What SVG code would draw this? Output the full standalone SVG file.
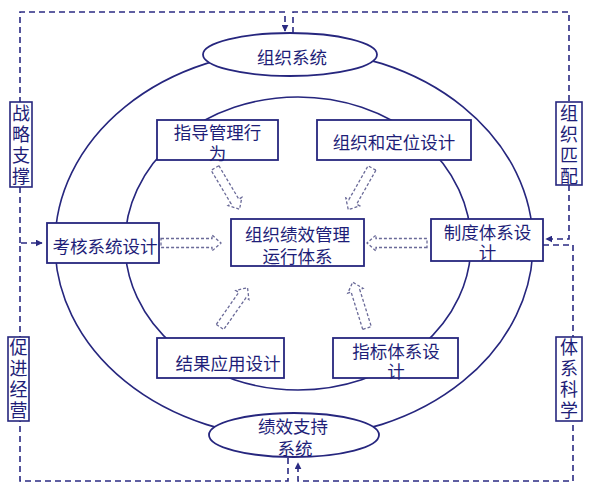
<svg xmlns="http://www.w3.org/2000/svg" width="591" height="491" viewBox="0 0 591 491">
<style>
text{font-family:"Noto Sans CJK SC","Noto Sans",sans-serif;fill:#1e1e78;font-size:17.5px;text-anchor:middle;dominant-baseline:central}
.ring{fill:none;stroke:#26267e;stroke-width:1.6}
.box{fill:#fff;stroke:#26267e;stroke-width:1.8}
.side rect{fill:#fff;stroke:#26267e;stroke-width:1.6}
.side text{font-size:18px;writing-mode:vertical-rl;text-anchor:start;letter-spacing:3px}
.dash{fill:none;stroke:#2a2a82;stroke-width:1.6;stroke-dasharray:6 4}
.blk{fill:#fff;stroke:#6a6a98;stroke-width:1.3;stroke-dasharray:3 2}
</style>
<defs>
<marker id="ah" viewBox="0 0 10 10" refX="9" refY="5" markerWidth="7" markerHeight="7" markerUnits="userSpaceOnUse" orient="auto">
<path d="M0,0 L10,5 L0,10 Z" fill="#2a2a82"/>
</marker>
<path id="bs" d="M0,-4.5 H39 V-8 L48,0 L39,8 V4.5 H0 Z"/>
<path id="bl" d="M0,-4.5 H51 V-8 L60,0 L51,8 V4.5 H0 Z"/>
</defs>
<rect width="591" height="491" fill="#fff"/>
<g id="rings">
<ellipse class="ring" cx="294" cy="244" rx="239" ry="194"/>
<ellipse class="ring" cx="298" cy="243.5" rx="173" ry="146.5"/>
</g>
<g id="connectors">
<path class="dash" d="M20,243 V12 H285 V31" marker-end="url(#ah)"/>
<path class="dash" d="M288,458 V481 H20 V243 H42" marker-end="url(#ah)"/>
<path class="dash" d="M293,33 V12 H569 V239 H546" marker-end="url(#ah)"/>
<path class="dash" d="M543,245 H573 V481 H298 V463" marker-end="url(#ah)"/>
<use href="#bs" class="blk" transform="translate(215,168) rotate(59.2)"/>
<use href="#bs" class="blk" transform="translate(372,168) rotate(119.6)"/>
<use href="#bl" class="blk" transform="translate(161,243)"/>
<use href="#bl" class="blk" transform="translate(427,243) rotate(180)"/>
<use href="#bs" class="blk" transform="translate(220,327) rotate(-55)"/>
<use href="#bs" class="blk" transform="translate(367,328) rotate(-107.3)"/>
</g>
<g id="n-org-sys"><ellipse class="box" cx="290" cy="54.5" rx="87" ry="21.5"/><text x="292" y="56">组织系统</text></g>
<g id="n-perf-sys"><ellipse class="box" cx="294" cy="435" rx="85" ry="22"/><text y="424.5"><tspan x="293">绩效支持</tspan><tspan x="295" dy="22.5">系统</tspan></text></g>
<g id="n-guide"><rect class="box" x="157" y="120" width="121" height="40"/><text y="131"><tspan x="217.5">指导管理行</tspan><tspan x="217.5" dy="20.5">为</tspan></text></g>
<g id="n-org-pos"><rect class="box" x="317" y="120" width="154" height="40"/><text x="394" y="141">组织和定位设计</text></g>
<g id="n-eval"><rect class="box" x="47" y="223" width="112" height="40"/><text x="105" y="245">考核系统设计</text></g>
<g id="n-center"><rect class="box" x="231" y="219" width="133" height="47"/><text y="232.5"><tspan x="297.5">组织绩效管理</tspan><tspan x="297.5" dy="22.5">运行体系</tspan></text></g>
<g id="n-inst"><rect class="box" x="431" y="219" width="112" height="42"/><text y="230.5"><tspan x="487.5">制度体系设</tspan><tspan x="487.5" dy="20.5">计</tspan></text></g>
<g id="n-result"><rect class="box" x="157" y="338" width="127" height="40"/><text x="228" y="362">结果应用设计</text></g>
<g id="n-index"><rect class="box" x="333" y="338" width="125" height="40"/><text y="349.5"><tspan x="396">指标体系设</tspan><tspan x="396" dy="20.5">计</tspan></text></g>
<g id="n-strategy" class="side"><rect x="10" y="102" width="22" height="85"/><text x="21" y="104.5">战略支撑</text></g>
<g id="n-business" class="side"><rect x="8" y="337" width="21" height="84"/><text x="18.5" y="338.5">促进经营</text></g>
<g id="n-match" class="side"><rect x="556" y="102" width="26" height="83"/><text x="569" y="104.5">组织匹配</text></g>
<g id="n-science" class="side"><rect x="556" y="337" width="26" height="84"/><text x="569" y="338.5">体系科学</text></g>
</svg>
